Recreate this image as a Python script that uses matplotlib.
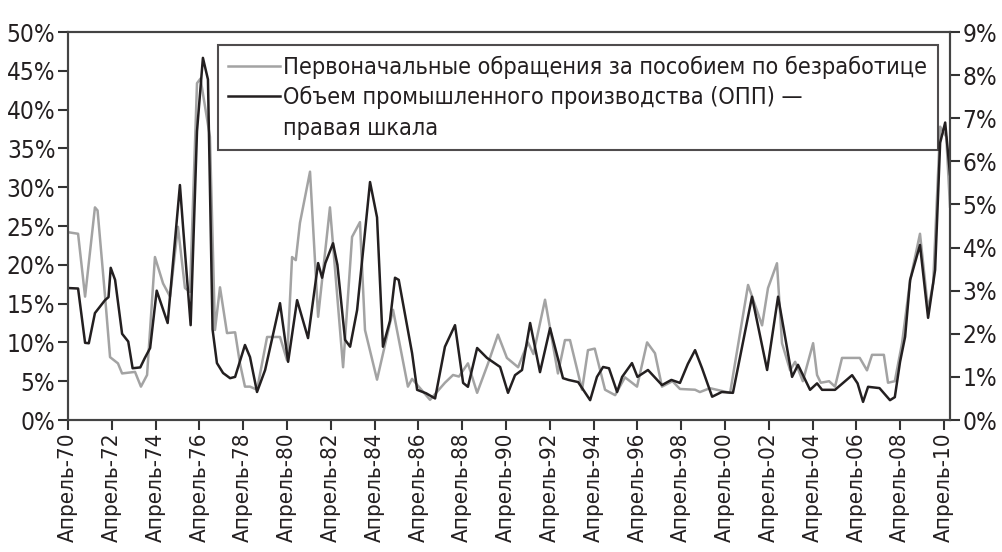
import numpy as np
import matplotlib
matplotlib.use('Agg')
import matplotlib.pyplot as plt
from matplotlib.lines import Line2D
from matplotlib.ticker import FuncFormatter

plt.rcParams['font.family'] = ['DejaVu Sans']
plt.rcParams['font.stretch'] = 'condensed'

# Первоначальные обращения за пособием (левая шкала, %)
claims_t = [1970.25, 1970.71, 1971.03, 1971.48, 1971.6, 1971.94, 1972.17, 1972.53, 1972.72,
            1973.31, 1973.58, 1973.86, 1974.22, 1974.59, 1974.91, 1975.27, 1975.59, 1975.82,
            1976.14, 1976.3, 1976.73, 1976.96, 1977.19, 1977.51, 1977.88, 1978.10, 1978.33,
            1978.56, 1978.88, 1979.34, 1979.93, 1980.25, 1980.48, 1980.65, 1980.84, 1981.30,
            1981.67, 1982.21, 1982.81, 1983.22, 1983.58, 1983.81, 1984.36, 1985.09, 1985.77,
            1985.96, 1986.78, 1987.46, 1987.83, 1988.1, 1988.51, 1988.93, 1989.43, 1989.88,
            1990.29, 1990.80, 1991.25, 1991.5, 1992.03, 1992.62, 1992.94, 1993.17, 1993.72,
            1993.99, 1994.3, 1994.77, 1995.23, 1995.68, 1996.23, 1996.69, 1997.05, 1997.37,
            1997.85, 1998.19, 1998.88, 1999.1, 1999.56, 2000.48, 2001.30, 2001.94, 2002.21,
            2002.62, 2002.85, 2003.22, 2003.45, 2003.8, 2004.27, 2004.45, 2004.62, 2005.0,
            2005.27, 2005.59, 2006.4, 2006.73, 2006.96, 2007.5, 2007.69, 2008.0, 2008.33,
            2008.70, 2009.15, 2009.52, 2009.75, 2010.07, 2010.35, 2010.52]
claims = [24.2, 24.0, 15.9, 27.4, 27.0, 16.0, 8.1, 7.3, 6.0,
          6.2, 4.3, 5.8, 21.0, 17.6, 15.9, 24.9, 17.0, 16.5,
          43.4, 44.0, 36.5, 11.6, 17.1, 11.2, 11.3, 7.3, 4.3,
          4.3, 3.9, 10.7, 10.7, 7.7, 21.0, 20.6, 25.4, 32.0,
          13.3, 27.4, 6.8, 23.6, 25.5, 11.6, 5.2, 14.2, 4.3,
          5.3, 2.6, 4.8, 5.8, 5.6, 7.3, 3.5, 7.3, 11.0,
          8.0, 6.8, 10.0, 8.5, 15.5, 6.0, 10.3, 10.3, 3.9,
          9.0, 9.2, 3.9, 3.2, 5.5, 4.3, 10.0, 8.6, 4.3,
          5.0, 4.0, 3.9, 3.6, 4.1, 3.5, 17.4, 12.2, 17.0,
          20.2, 9.9, 6.4, 7.5, 5.0, 9.9, 5.8, 4.8, 5.0,
          4.3, 8.0, 8.0, 6.4, 8.4, 8.4, 4.8, 5.0, 9.9,
          18.0, 24.0, 14.2, 17.6, 37.8, 36.5, 27.5]

# Объем промышленного производства (правая шкала, %)
ip_t = [1970.3, 1970.71, 1971.03, 1971.2, 1971.48, 1971.94, 1972.1, 1972.2, 1972.4,
        1972.72, 1973.0, 1973.2, 1973.55, 1973.75, 1974.0, 1974.3, 1974.8, 1975.36,
        1975.5, 1975.85, 1976.14, 1976.41, 1976.64, 1976.85, 1977.05, 1977.33, 1977.65,
        1977.88, 1978.33, 1978.56, 1978.88, 1979.25, 1979.93, 1980.30, 1980.71, 1981.21,
        1981.67, 1981.85, 1982.0, 1982.35, 1982.55, 1982.90, 1983.13, 1983.45, 1984.04,
        1984.36, 1984.63, 1984.95, 1985.18, 1985.35, 1985.96, 1986.19, 1986.6, 1987.01,
        1987.46, 1987.92, 1988.29, 1988.51, 1988.93, 1989.38, 1989.98, 1990.34, 1990.66,
        1990.98, 1991.35, 1991.80, 1992.26, 1992.85, 1993.1, 1993.54, 1994.09, 1994.40,
        1994.68, 1994.95, 1995.32, 1995.55, 1996.00, 1996.25, 1996.73, 1997.37, 1997.8,
        1998.19, 1998.55, 1998.88, 1999.2, 1999.66, 2000.1, 2000.61, 2001.48, 2002.17,
        2002.67, 2003.31, 2003.58, 2004.13, 2004.45, 2004.68, 2005.27, 2006.05, 2006.3,
        2006.55, 2006.78, 2007.3, 2007.78, 2008.0, 2008.24, 2008.47, 2008.70, 2009.15,
        2009.52, 2009.84, 2010.07, 2010.30, 2010.52]
ip = [3.06, 3.05, 1.79, 1.78, 2.48, 2.78, 2.85, 3.53, 3.25,
      2.0, 1.82, 1.2, 1.22, 1.43, 1.67, 3.0, 2.25, 5.45,
      4.5, 2.2, 6.7, 8.4, 7.9, 2.1, 1.32, 1.09, 0.97,
      1.0, 1.74, 1.46, 0.65, 1.16, 2.71, 1.35, 2.78, 1.9,
      3.64, 3.3, 3.64, 4.1, 3.6, 1.86, 1.7, 2.55, 5.52,
      4.7, 1.7, 2.3, 3.3, 3.25, 1.55, 0.7, 0.62, 0.5,
      1.7, 2.2, 0.86, 0.77, 1.67, 1.44, 1.23, 0.63, 1.04,
      1.16, 2.25, 1.11, 2.13, 0.97, 0.93, 0.88, 0.46, 1.0,
      1.23, 1.2, 0.65, 1.0, 1.32, 1.0, 1.16, 0.81, 0.93,
      0.86, 1.3, 1.62, 1.2, 0.54, 0.65, 0.63, 2.86, 1.16,
      2.86, 1.0, 1.28, 0.7, 0.85, 0.7, 0.7, 1.04, 0.85,
      0.42, 0.77, 0.74, 0.46, 0.53, 1.35, 1.93, 3.25, 4.06,
      2.37, 3.48, 6.43, 6.9, 5.7]

years = list(range(1970, 2011, 2))
tick_labels = ['Апрель-%02d' % (y % 100) for y in years]

txt = '#231f20'
fig = plt.figure(figsize=(10.03, 5.52), dpi=100)
ax = fig.add_axes([68 / 1003, 1 - 420 / 552, 882 / 1003, 388 / 552])
ax2 = ax.twinx()

l1, = ax.plot(claims_t, claims, color='#a3a3a3', lw=1.8)
l2, = ax2.plot(ip_t, ip, color='#231f20', lw=1.8)

ax.set_xlim(1970.25, 2010.52)
ax.set_ylim(0, 50)
ax2.set_ylim(0, 9)
ax.set_xticks([y + 0.25 for y in years])
ax.set_xticklabels(tick_labels, rotation=90, color=txt)
ax.set_yticks(np.arange(0, 51, 5))
ax2.set_yticks(np.arange(0, 10, 1))
ax.yaxis.set_major_formatter(FuncFormatter(lambda v, p: '%d%%' % v))
ax2.yaxis.set_major_formatter(FuncFormatter(lambda v, p: '%d%%' % v))

for a in (ax, ax2):
    a.tick_params(axis='both', direction='out', length=7, width=1.5, colors='#333333',
                  labelcolor=txt, labelsize=17.5, pad=2)
    for s in a.spines.values():
        s.set_color('#444444')
        s.set_linewidth(1.5)
ax.tick_params(axis='x', labelsize=16)

# третья строка подписи — продолжение второй, без своего маркера
blank = Line2D([], [], color='none')
leg = ax2.legend([l1, l2, blank],
                 ['Первоначальные обращения за пособием по безработице',
                  'Объем промышленного производства (ОПП) —',
                  'правая шкала'],
                 loc='upper left', bbox_to_anchor=(150 / 882, 375 / 388), borderaxespad=0,
                 fontsize=16.8, frameon=True, fancybox=False, handlelength=2.2,
                 handletextpad=0.15, borderpad=0.45, labelspacing=0.32)
leg.get_frame().set_edgecolor('#231f20')
leg.get_frame().set_linewidth(1.5)
for t in leg.get_texts():
    t.set_color(txt)

fig.savefig('out.png', dpi=100)
